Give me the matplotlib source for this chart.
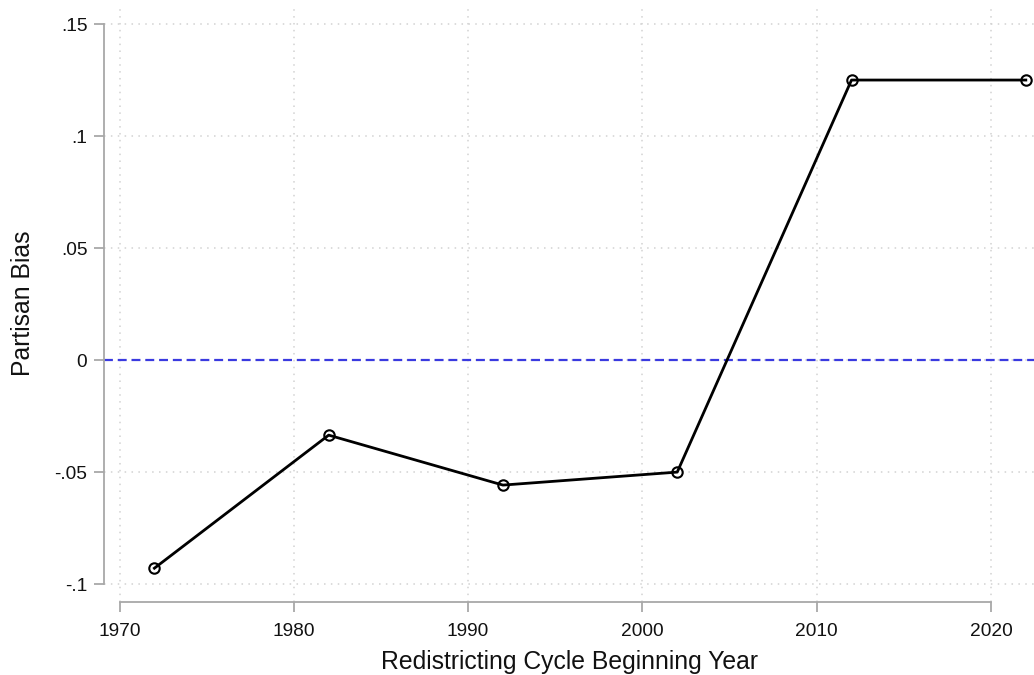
import numpy as np
import matplotlib.pyplot as plt

plt.rcParams['font.family'] = ['Liberation Sans', 'DejaVu Sans']

# Данные
years = [1972, 1982, 1992, 2002, 2012, 2022]
bias = [-0.0929, -0.0335, -0.0558, -0.0500, 0.125, 0.125]
x_ticks = [1970, 1980, 1990, 2000, 2010, 2020]
y_ticks = [-0.1, -0.05, 0, 0.05, 0.1, 0.15]
y_tick_labels = ['-.1', '-.05', '0', '.05', '.1', '.15']

fig = plt.figure(figsize=(10.34, 6.75), dpi=100)
ax = fig.add_axes([0.1006, 0.1081, 0.8994, 0.8845])

spine_color = '#a8a8a8'

# Сетка
for xt in x_ticks:
    ax.axvline(xt, color='#d2d2d2', linestyle=(0, (1, 3.5)), linewidth=1.1, zorder=0)
for yt in y_ticks:
    ax.axhline(yt, color='#d2d2d2', linestyle=(0, (1, 3.5)), linewidth=1.1, zorder=0)

# Линия нуля
ax.axhline(0, color='#3a3ae0', linestyle=(0, (4, 2.2)), linewidth=1.6, zorder=1)

# Основная линия
ax.plot(years, bias, color='black', linewidth=2.0, marker='o', markersize=7.5,
        markerfacecolor='none', markeredgecolor='black', markeredgewidth=1.5, zorder=3)

ax.set_xlim(1969.11, 2022.47)
ax.set_ylim(-0.108, 0.1585)

ax.set_xticks(x_ticks)
ax.set_yticks(y_ticks)
ax.set_yticklabels(y_tick_labels)

for s in ['top', 'right']:
    ax.spines[s].set_visible(False)
ax.spines['left'].set_bounds(-0.1, 0.15)
ax.spines['bottom'].set_bounds(1970, 2020)
for s in ['left', 'bottom']:
    ax.spines[s].set_color(spine_color)
    ax.spines[s].set_linewidth(1.3)

ax.tick_params(axis='both', direction='out', length=7, width=1.3, color=spine_color,
               labelsize=13.8, labelcolor='#111111')
ax.tick_params(axis='x', pad=8)
ax.tick_params(axis='y', pad=5)

ax.set_xlabel('Redistricting Cycle Beginning Year', fontsize=17.8, color='#111111', labelpad=7)
ax.set_ylabel('Partisan Bias', fontsize=17.8, color='#111111', labelpad=14)

fig.savefig('out.png', dpi=100)
